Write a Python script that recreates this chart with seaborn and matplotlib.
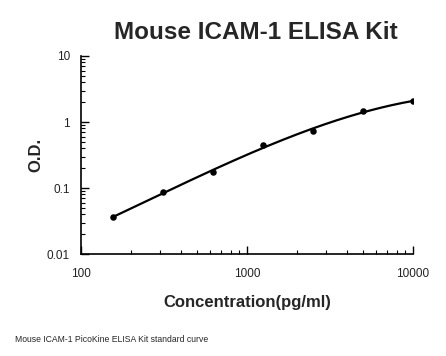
import numpy as np
import pandas as pd
import matplotlib
matplotlib.use("Agg")
import matplotlib.pyplot as plt
import matplotlib.ticker as mticker
import seaborn as sns

concentration = [156.25, 312.5, 625, 1250, 2500, 5000, 10000]
od = [0.036, 0.088, 0.173, 0.444, 0.738, 1.47, 2.06]
x_ticks = [100, 1000, 10000]
x_tick_labels = ["100", "1000", "10000"]
y_ticks = [0.01, 0.1, 1, 10]
y_tick_labels = ["0.01", "0.1", "1", "10"]

sns.set_style("ticks")
plt.rcParams["font.family"] = ["Liberation Sans", "DejaVu Sans"]

df = pd.DataFrame({"conc": concentration, "od": od})

# smooth standard curve: polynomial fit in log-log space
lx = np.log10(df["conc"].values)
ly = np.log10(df["od"].values)
coef = np.polyfit(lx, ly, 3)
xs = np.linspace(lx.min(), lx.max(), 200)
curve = pd.DataFrame({"conc": 10 ** xs, "od": 10 ** np.polyval(coef, xs)})

fig = plt.figure(figsize=(4.46, 3.56), dpi=100)
ax = fig.add_axes([0.1816, 0.2865, 0.7444, 0.5562])

sns.lineplot(data=curve, x="conc", y="od", ax=ax, color="black", linewidth=1.6)
sns.scatterplot(data=df, x="conc", y="od", ax=ax, color="black", s=22,
                edgecolor="black", linewidth=0, zorder=3)

ax.set_xscale("log")
ax.set_yscale("log")
ax.set_xlim(100, 10000)
ax.set_ylim(0.01, 10)
ax.xaxis.set_major_locator(mticker.FixedLocator(x_ticks))
ax.xaxis.set_major_formatter(mticker.FixedFormatter(x_tick_labels))
ax.yaxis.set_major_locator(mticker.FixedLocator(y_ticks))
ax.yaxis.set_major_formatter(mticker.FixedFormatter(y_tick_labels))
ax.xaxis.set_minor_locator(mticker.LogLocator(base=10, subs=np.arange(2, 10)))
ax.yaxis.set_minor_locator(mticker.LogLocator(base=10, subs=np.arange(2, 10)))
ax.xaxis.set_minor_formatter(mticker.NullFormatter())
ax.yaxis.set_minor_formatter(mticker.NullFormatter())

ax.tick_params(which="major", direction="in", length=6, width=1, colors="black",
               labelsize=8.5, labelcolor="#222222", pad=10)
ax.tick_params(axis="y", which="major", pad=8)
ax.tick_params(which="minor", direction="in", length=3, width=0.8, colors="black")
sns.despine(ax=ax)
for s in ["left", "bottom"]:
    ax.spines[s].set_linewidth(1.2)
    ax.spines[s].set_color("black")

ax.set_xlabel("Concentration(pg/ml)", fontsize=12, fontweight="bold", labelpad=11)
ax.set_ylabel("O.D.", fontsize=12, fontweight="bold")
ax.yaxis.set_label_coords(-0.114, 0.5)
fig.text(0.573, 0.909, "Mouse ICAM-1 ELISA Kit", fontsize=17.5, fontweight="bold",
         ha="center", va="center")
fig.text(0.034, 0.045, "Mouse ICAM-1 PicoKine ELISA Kit standard curve",
         fontsize=6.2, ha="left", va="center")

fig.savefig("out.png", dpi=100)
